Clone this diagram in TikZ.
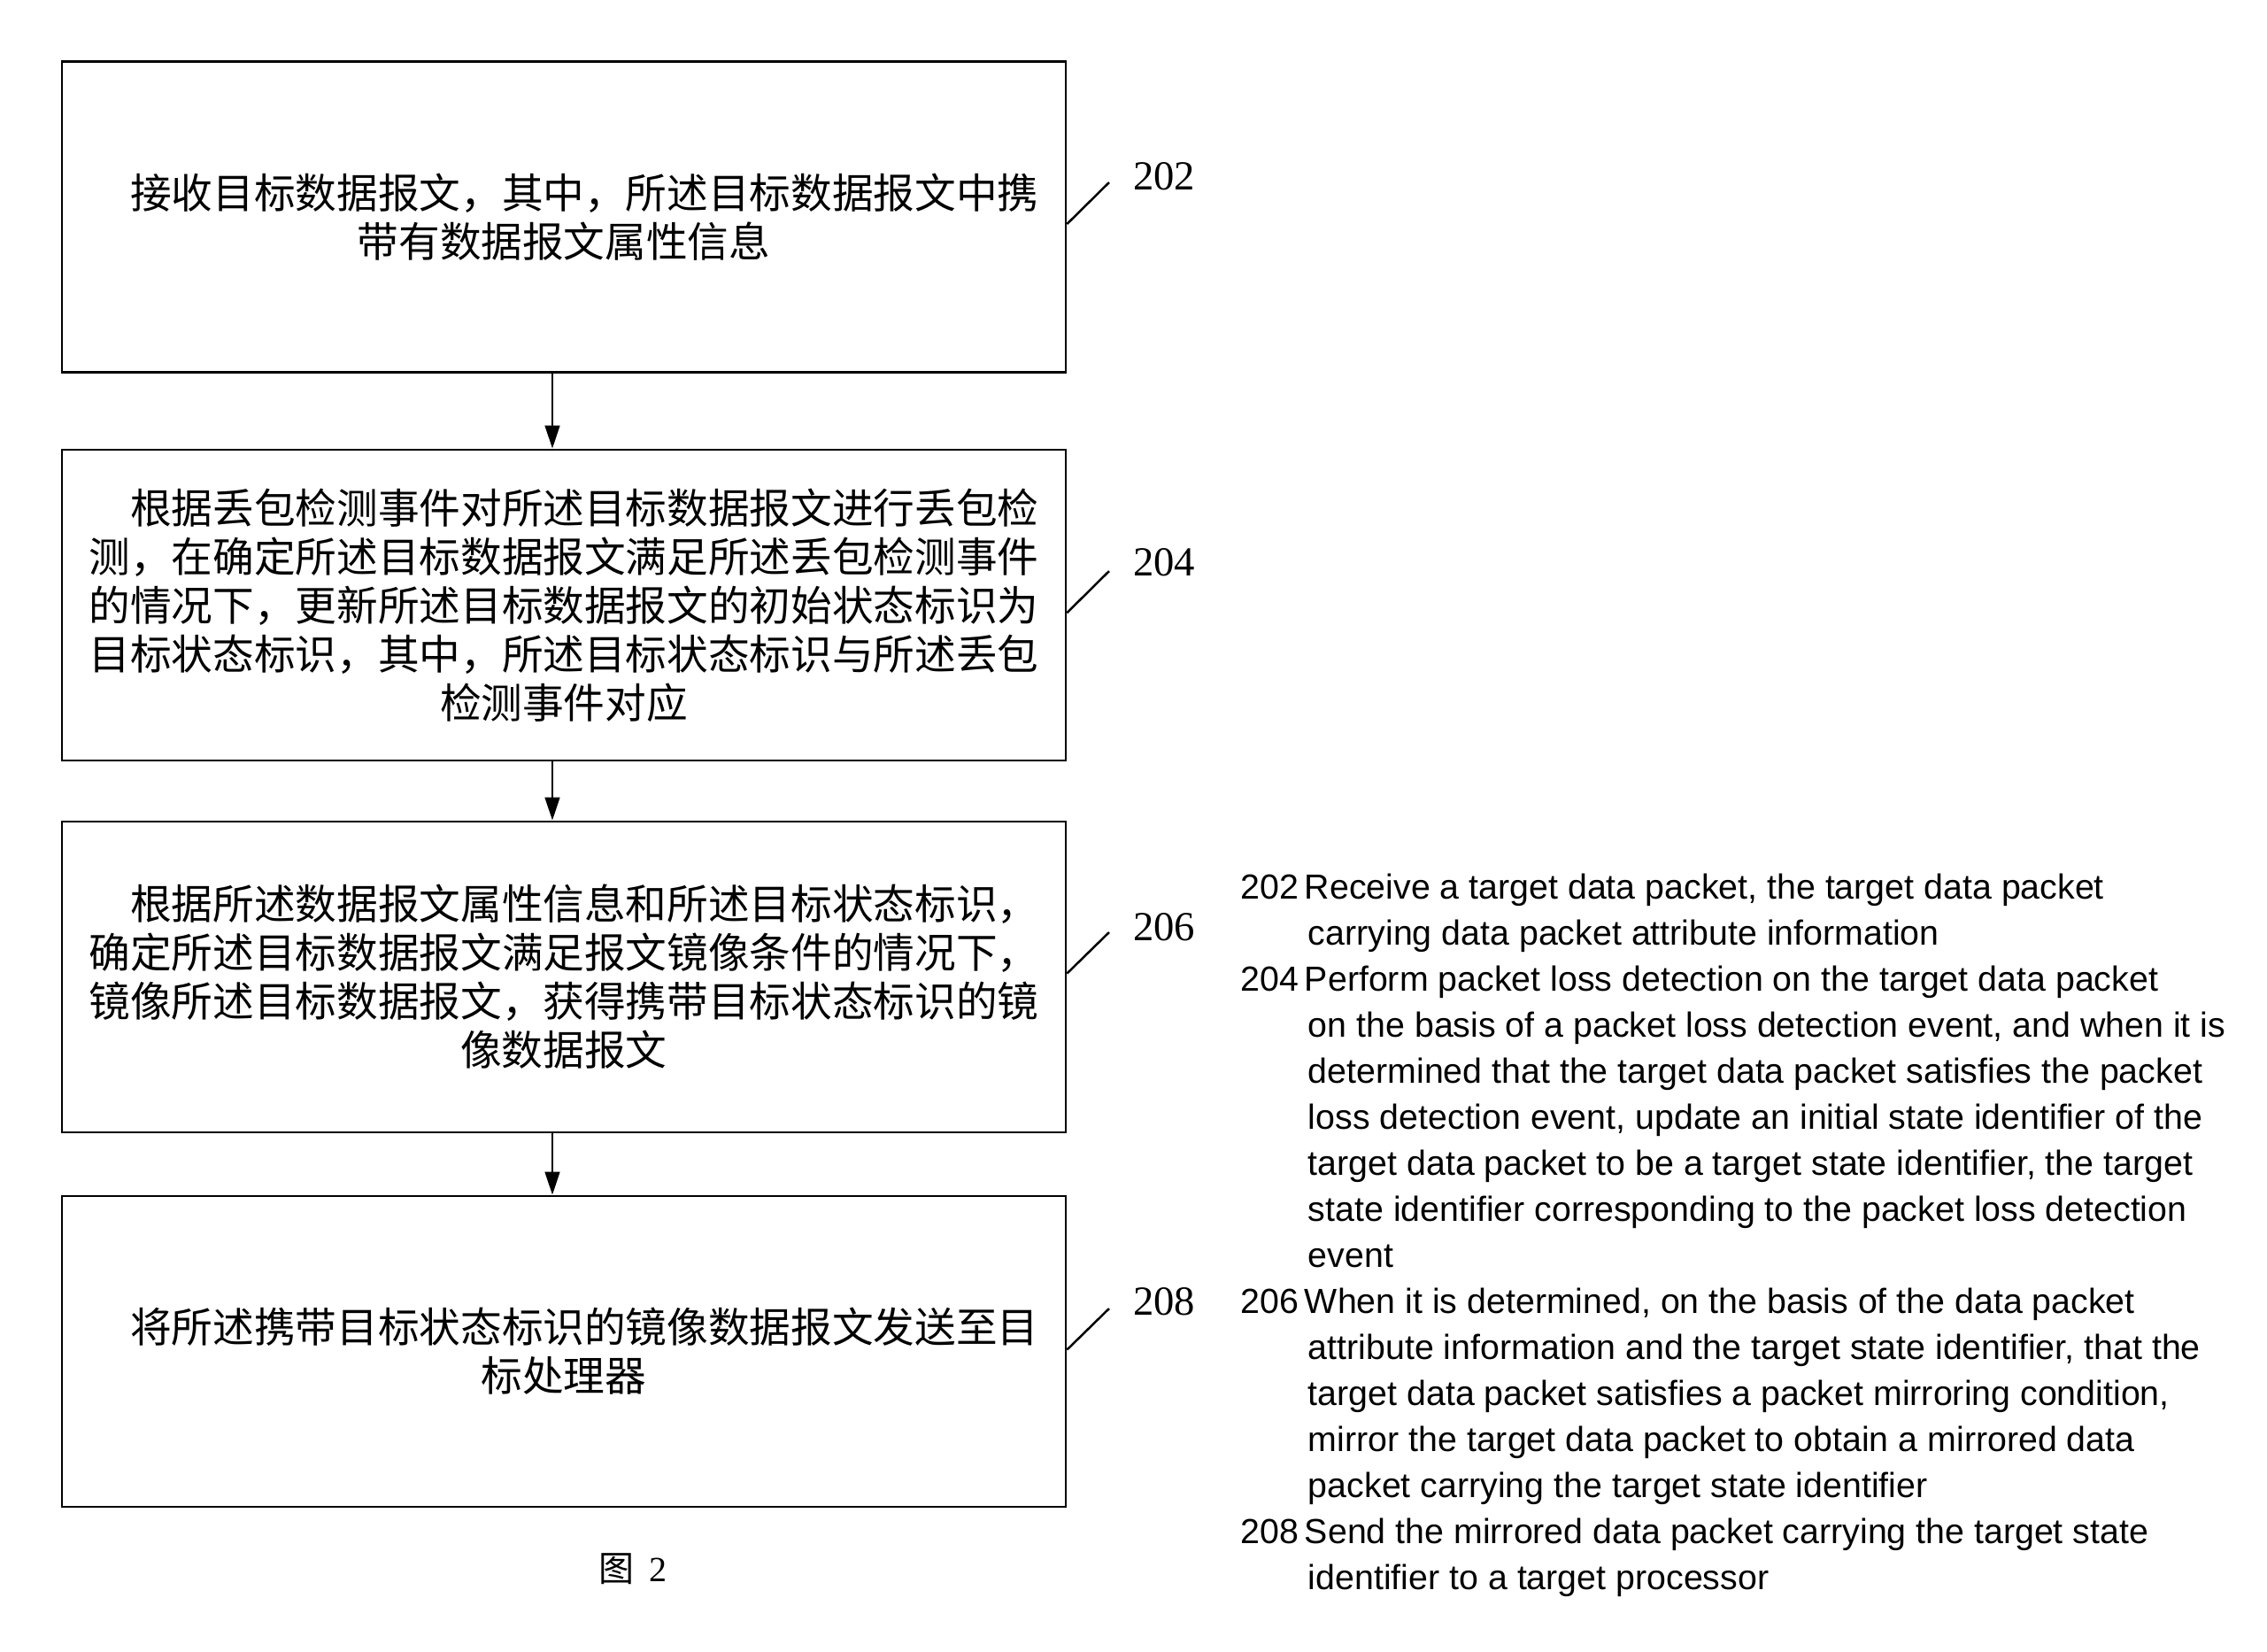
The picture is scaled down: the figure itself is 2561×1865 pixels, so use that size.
\documentclass[tikz,border=0pt]{standalone}
\usepackage{fontspec}
\setmainfont{Liberation Serif}
\newfontfamily\cjk{Noto Sans CJK SC}
\newfontfamily\arialf{Liberation Sans}
\usetikzlibrary{arrows.meta}
\tikzset{
  stepbox/.style={draw, line width=0.85pt, minimum width=340.2pt, minimum height=105.3pt, inner sep=0pt, align=center, font=\cjk\fontsize{14pt}{16.5pt}\selectfont},
  arr/.style={-{Triangle[length=7.8pt,width=5pt]}, line width=0.7pt},
  lead/.style={line width=0.75pt},
  lab/.style={font=\fontsize{14pt}{16pt}\selectfont, inner sep=0pt},
}
\begin{document}
\begin{tikzpicture}[x=0.3pt,y=-0.3pt]
\useasboundingbox[fill=white] (0,0) rectangle (2561,1865);

\node[stepbox] (b1) at (637,245) {\hspace*{1em}接收目标数据报文，其中，所述目标数据报文中携\\带有数据报文属性信息};
\node[stepbox] (b2) at (637,683.5) {\hspace*{1em}根据丢包检测事件对所述目标数据报文进行丢包检\\测，在确定所述目标数据报文满足所述丢包检测事件\\的情况下，更新所述目标数据报文的初始状态标识为\\目标状态标识，其中，所述目标状态标识与所述丢包\\检测事件对应};
\node[stepbox] (b3) at (637,1103.5) {\hspace*{1em}根据所述数据报文属性信息和所述目标状态标识，\\确定所述目标数据报文满足报文镜像条件的情况下，\\镜像所述目标数据报文，获得携带目标状态标识的镜\\像数据报文};
\node[stepbox] (b4) at (637,1526.5) {\hspace*{1em}将所述携带目标状态标识的镜像数据报文发送至目\\标处理器};

\draw[arr] ([xshift=-3.9pt]b1.south) -- ([xshift=-3.9pt]b2.north);
\draw[arr] ([xshift=-3.9pt]b2.south) -- ([xshift=-3.9pt]b3.north);
\draw[arr] ([xshift=-3.9pt]b3.south) -- ([xshift=-3.9pt]b4.north);

\node[lab] (l202) at (1315,199) {202};
\node[lab] (l204) at (1315,635) {204};
\node[lab] (l206) at (1315,1047) {206};
\node[lab] (l208) at (1315,1470) {208};

\coordinate (c202) at (1253,206);
\coordinate (c204) at (1253,645);
\coordinate (c206) at (1253,1053);
\coordinate (c208) at (1253,1478);
\draw[lead] ([yshift=-2.4pt]b1.east) -- (c202);
\draw[lead] ([yshift=-2.6pt]b2.east) -- (c204);
\draw[lead] ([yshift=1.2pt]b3.east) -- (c206);
\draw[lead] ([yshift=0.6pt]b4.east) -- (c208);

\node[anchor=north west, inner sep=0pt, font=\arialf\fontsize{11.8pt}{15.6pt}\selectfont] (desc) at (1401,978) {%
\begin{tabular}{@{}l@{\hspace{2pt}}l@{}}
202 & Receive a target data packet, the target data packet\\
    & \hspace{1.2pt}carrying data packet attribute information\\
204 & Perform packet loss detection on the target data packet\\
    & \hspace{1.2pt}on the basis of a packet loss detection event, and when it is\\
    & \hspace{1.2pt}determined that the target data packet satisfies the packet\\
    & \hspace{1.2pt}loss detection event, update an initial state identifier of the\\
    & \hspace{1.2pt}target data packet to be a target state identifier, the target\\
    & \hspace{1.2pt}state identifier corresponding to the packet loss detection\\
    & \hspace{1.2pt}event\\
206 & When it is determined, on the basis of the data packet\\
    & \hspace{1.2pt}attribute information and the target state identifier, that the\\
    & \hspace{1.2pt}target data packet satisfies a packet mirroring condition,\\
    & \hspace{1.2pt}mirror the target data packet to obtain a mirrored data\\
    & \hspace{1.2pt}packet carrying the target state identifier\\
208 & Send the mirrored data packet carrying the target state\\
    & \hspace{1.2pt}identifier to a target processor
\end{tabular}};

\node[font=\fontsize{12pt}{14pt}\selectfont, inner sep=0pt] (cap) at (715,1772) {{\cjk 图}\, 2};
\end{tikzpicture}
\end{document}
